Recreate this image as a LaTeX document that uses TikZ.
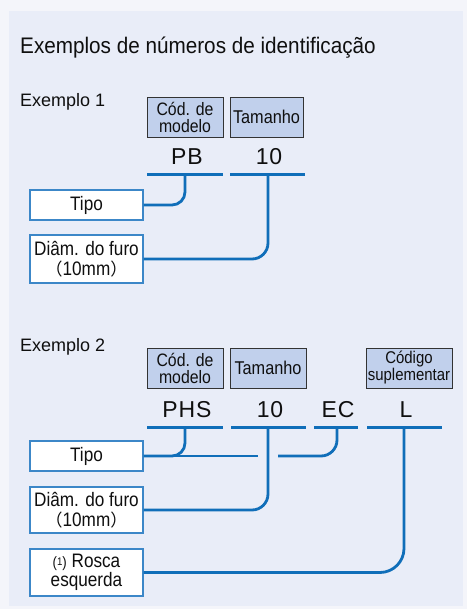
\documentclass[tikz,border=0pt]{standalone}
\usepackage{fontspec}
\setmainfont{Liberation Sans}
\newfontfamily\titlefont{Liberation Sans}[FakeStretch=0.92]
\newfontfamily\boxfont{Liberation Sans}[FakeStretch=0.88]
\newfontfamily\hdrfont{Liberation Sans}[FakeStretch=0.88]
\newfontfamily\codefont{Liberation Sans}[LetterSpace=4]
\newfontfamily\cjkfont{Noto Sans CJK JP}
\definecolor{outerbg}{RGB}{244,245,250}
\definecolor{panelbg}{RGB}{233,237,248}
\definecolor{hdrfill}{RGB}{193,208,236}
\definecolor{linkblue}{RGB}{16,110,185}
\definecolor{boxblue}{RGB}{60,135,200}
\definecolor{txt}{RGB}{15,15,15}
\tikzset{
  hdr/.style={draw=black!80, line width=0.8pt, fill=hdrfill, inner sep=0pt, align=center, text=txt, minimum height=40pt, font=\hdrfont\fontsize{18}{17}\selectfont},
  lbox/.style={draw=boxblue, line width=1.3pt, fill=white, inner sep=0pt, minimum width=113pt, align=center, text=txt, font=\boxfont\fontsize{19.5}{18.5}\selectfont},
  codetxt/.style={font=\codefont\fontsize{23}{23}\selectfont, anchor=base, inner sep=0pt, text=txt},
  lbl/.style={anchor=base west, inner sep=0pt, text=txt, font=\fontsize{18}{18}\selectfont},
  uline/.style={linkblue, line width=3pt},
  conn/.style={linkblue, line width=2.8pt, rounded corners=14pt}
}
\newcommand{\fwparen}[1]{{\cjkfont\fontsize{17}{17}\selectfont #1}}
\begin{document}
\begin{tikzpicture}[x=1pt,y=-1pt]
\useasboundingbox (0,0) rectangle (467,609);
\fill[outerbg] (0,0) rectangle (467,609);
\fill[panelbg] (9,11) rectangle (463,606);

\node[anchor=base west, inner sep=0pt, text=txt, font=\titlefont\fontsize{22.5}{22.5}\selectfont] (title) at (20,54) {Exemplos de números de identificação};

% ---------- Example 1
\node[lbl] (ex1) at (20,107) {Exemplo 1};
\node[hdr, minimum width=76pt] (cod1) at (185,117) {Cód. de\\modelo};
\node[hdr, minimum width=73pt, font=\hdrfont\fontsize{18.5}{18}\selectfont] (tam1) at (266.5,117) {Tamanho};
\node[codetxt] (pb) at (187,165) {PB};
\node[codetxt] (ten1) at (269,165) {10};
\draw[uline] (147,175) -- (223,175);
\draw[uline] (230,175) -- (305,175);
\coordinate (u1) at (185,175);
\coordinate (u2) at (268,175);
\node[lbox, minimum height=30pt] (tipo1) at (86.5,205) {Tipo};
\node[lbox, minimum height=48pt, font=\boxfont\fontsize{19.5}{19.5}\selectfont] (diam1) at (86.5,259) {Diâm. do furo\\\fwparen{（}10mm\fwparen{）}};
\draw[conn, rounded corners=13pt] (u1) |- (tipo1.east);
\draw[conn, rounded corners=16pt] (u2) |- (diam1.east);

% ---------- Example 2
\node[lbl] (ex2) at (20,351) {Exemplo 2};
\node[hdr, minimum width=76pt] (cod2) at (185,368) {Cód. de\\modelo};
\node[hdr, minimum width=76pt, font=\hdrfont\fontsize{18.5}{18}\selectfont] (tam2) at (268,368) {Tamanho};
\node[hdr, minimum width=86pt, font=\hdrfont\fontsize{17}{17}\selectfont] (sup) at (409,368) {Código\\suplementar};
\node[codetxt] (phs) at (187,417) {PHS};
\node[codetxt] (ten2) at (270,417) {10};
\node[codetxt] (ec) at (338,417) {EC};
\node[codetxt] (ell) at (406,417) {L};
\draw[uline] (147,427) -- (223,427);
\draw[uline] (231,427) -- (306,427);
\draw[uline] (314,427) -- (358,427);
\draw[uline] (367,427) -- (442,427);
\coordinate (u3) at (185,427);
\coordinate (u4) at (268,427);
\coordinate (u5) at (337,427);
\coordinate (u6) at (404,427);
\node[lbox, minimum height=30pt] (tipo2) at (86.5,456) {Tipo};
\node[lbox, minimum height=46pt, font=\boxfont\fontsize{19.5}{19.5}\selectfont] (diam2) at (86.5,510) {Diâm. do furo\\\fwparen{（}10mm\fwparen{）}};
\node[lbox, minimum height=47pt] (rosca) at (86.5,572.5) {{\fontsize{15}{15}\selectfont(\raisebox{2.5pt}{\fontsize{11}{11}\selectfont 1})} Rosca\\esquerda};
\coordinate (g1) at (258,456);
\coordinate (g2) at (278,456);
\draw[conn, rounded corners=13pt] (u3) |- (tipo2.east);
\draw[conn] (tipo2.east) -- (g1);
\draw[conn, rounded corners=16pt] (u5) |- (g2);
\draw[conn, rounded corners=16pt] (u4) |- (diam2.east);
\draw[conn, rounded corners=24pt] (u6) |- (rosca.east);
\end{tikzpicture}
\end{document}
